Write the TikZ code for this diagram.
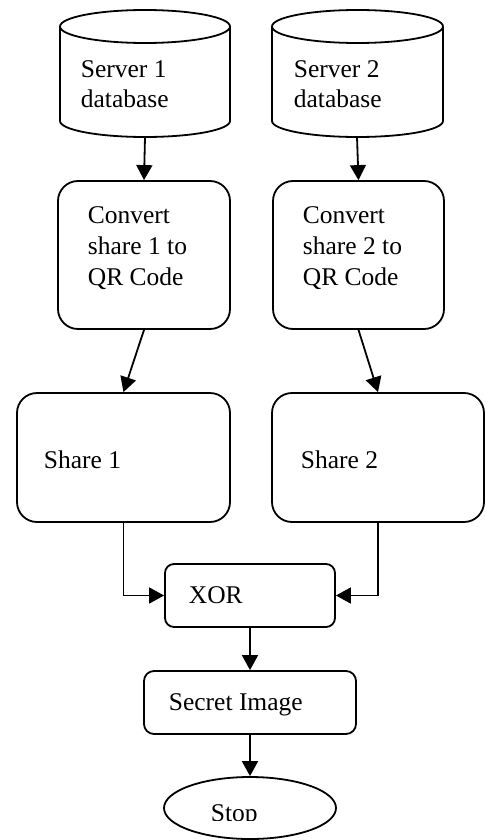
\documentclass[tikz,border=0pt]{standalone}
\usepackage{fontspec}
\setmainfont{Liberation Serif}
\usetikzlibrary{arrows.meta,shapes.geometric}
\begin{document}
\begin{tikzpicture}[x=1pt,y=-1pt,
  line width=1.8pt,
  box/.style={draw,rounded corners=#1,inner sep=0pt},
  box/.default=20pt,
  txt/.style={anchor=base west,inner sep=0pt,font=\fontsize{25.5}{30.5}\selectfont},
  arr/.style={-{Triangle[length=15pt,width=16pt]}},
  ]
\useasboundingbox (0,0) rectangle (485,840);
% databases
\node[inner sep=0pt,minimum width=170pt,minimum height=127pt] (db1) at (145,73.5) {};
\node[inner sep=0pt,minimum width=171pt,minimum height=127pt] (db2) at (357.5,73.5) {};
\draw (145,26.5) ellipse[x radius=85,y radius=16.5];
\draw (60,26.5) -- (60,121) arc[start angle=180,end angle=0,x radius=85,y radius=16] -- (230,26.5);
\draw (357.5,26.5) ellipse[x radius=85.5,y radius=16.5];
\draw (272,26.5) -- (272,121) arc[start angle=180,end angle=0,x radius=85.5,y radius=16] -- (443,26.5);
\node[txt] (t1a) at (80,78) {Server 1};
\node[txt] (t1b) at (80,108) {database};
\node[txt] (t2a) at (293,78) {Server 2};
\node[txt] (t2b) at (293,108) {database};
% convert boxes
\node[box,minimum width=172pt,minimum height=148pt] (conv1) at (144,255) {};
\node[box,minimum width=171pt,minimum height=148pt] (conv2) at (358.5,255) {};
\node[txt] (c1a) at (87,223) {Convert};
\node[txt] (c1b) at (87,254) {share 1 to};
\node[txt] (c1c) at (87,285) {QR Code};
\node[txt] (c2a) at (302,223) {Convert};
\node[txt] (c2b) at (302,254) {share 2 to};
\node[txt] (c2c) at (302,285) {QR Code};
% shares
\node[box,minimum width=213pt,minimum height=129pt] (share1) at (123.5,457.5) {};
\node[box,minimum width=212pt,minimum height=129pt] (share2) at (378,457.5) {};
\node[txt] (s1) at (43,468) {Share 1};
\node[txt] (s2) at (300,468) {Share 2};
% xor
\node[box=9pt,minimum width=170pt,minimum height=63pt] (xor) at (250,595.5) {};
\node[txt] (xt) at (188,603) {XOR};
% secret
\node[box=10pt,minimum width=212pt,minimum height=63pt] (secret) at (250,702.5) {};
\node[txt] (st) at (168,710) {Secret Image};
% stop
\node[draw,ellipse,inner sep=0pt,minimum width=172pt,minimum height=62pt] (stop) at (250,808) {};
\begin{scope}
\clip (164,777) rectangle (336,820.5);
\node[txt] (stopt) at (210,821) {Stop};
\end{scope}
% arrows
\draw[arr] (145,137) -- (conv1.north);
\draw[arr] (357,137) -- (conv2.north);
\draw[arr] (conv1.south) -- (share1.north);
\draw[arr] (conv2.south) -- (share2.north);
\draw[arr] (share1.south) |- (xor.west);
\draw[arr] (share2.south) |- (xor.east);
\draw[arr] (xor.south) -- (secret.north);
\draw[arr] (secret.south) -- (stop.north);
\end{tikzpicture}
\end{document}
